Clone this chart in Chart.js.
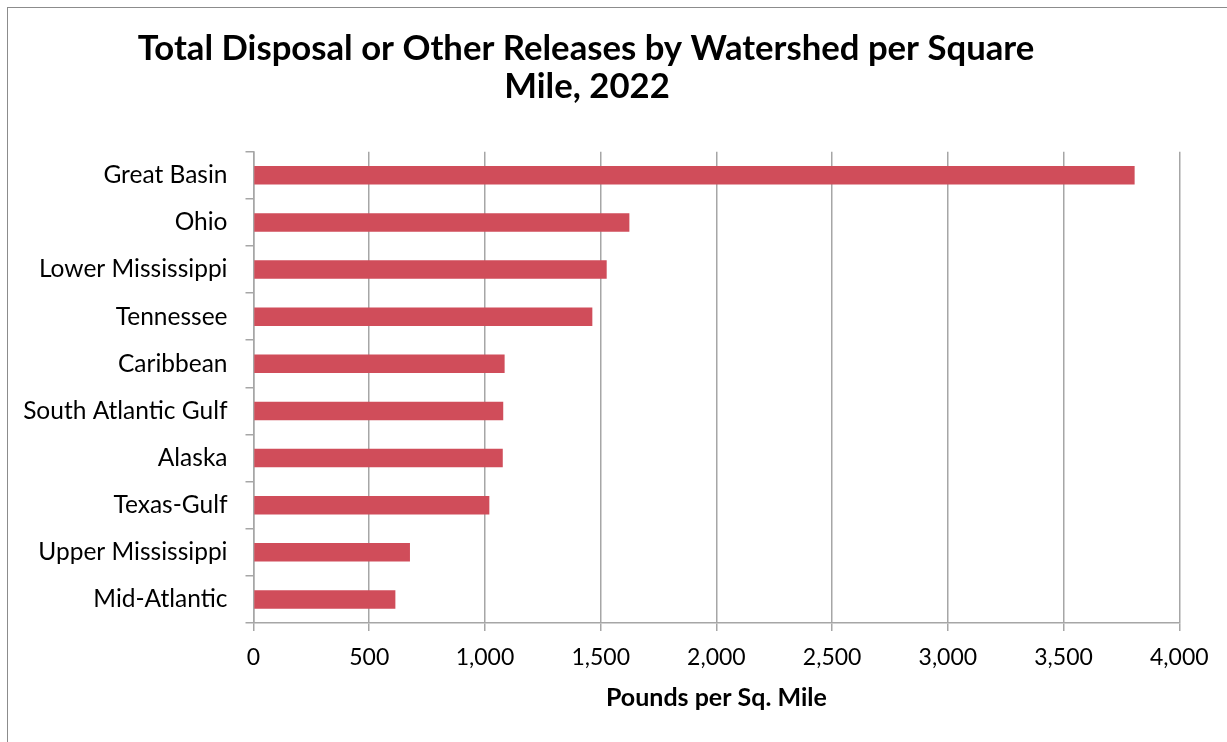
<!DOCTYPE html>
<html><head><meta charset="utf-8">
<script src="https://cdn.jsdelivr.net/npm/chart.js@4"></script>
<style>
html,body{margin:0;padding:0;background:#fff;overflow:hidden}
#wrap{position:absolute;left:0;top:0;width:1227px;height:742px}
#frame{position:absolute;left:7px;top:7px;width:1240px;height:760px;border-left:1px solid #8c8c8c;border-top:1px solid #8c8c8c;pointer-events:none}
</style></head>
<body>
<div id="wrap"><canvas id="c" width="1227" height="742"></canvas></div>
<div id="frame"></div>
<script>
const categories = ["Great Basin","Ohio","Lower Mississippi","Tennessee","Caribbean","South Atlantic Gulf","Alaska","Texas-Gulf","Upper Mississippi","Mid-Atlantic"];
const values = [3807,1624,1526,1464,1085,1079,1077,1019,676,613];
const xTickValues = [0,500,1000,1500,2000,2500,3000,3500,4000];
const titleLines = ["Total Disposal or Other Releases by Watershed per Square","Mile, 2022"];
const xAxisTitle = "Pounds per Sq. Mile";

const FONT = "Lato";
const titlePlugin = {
  id: 'customTitle',
  afterDraw(chart) {
    const ctx = chart.ctx;
    ctx.save();
    ctx.fillStyle = '#000';
    ctx.font = "bold 34.7px " + FONT;
    ctx.textAlign = 'center';
    ctx.textBaseline = 'alphabetic';
    ctx.fillText(titleLines[0], 586, 60);
    ctx.fillText(titleLines[1], 587, 97.5);
    ctx.restore();
  }
};

new Chart(document.getElementById('c'), {
  type: 'bar',
  data: {
    labels: categories,
    datasets: [{
      data: values,
      backgroundColor: 'rgb(208,77,90)',
      borderWidth: 0,
      categoryPercentage: 1,
      barPercentage: 0.393
    }]
  },
  plugins: [titlePlugin],
  options: {
    indexAxis: 'y',
    responsive: false,
    animation: false,
    devicePixelRatio: 1,
    layout: { padding: { top: 151.7, right: 47.7, left: 0, bottom: 0 } },
    plugins: { legend: { display: false }, title: { display: false }, tooltip: { enabled: false } },
    scales: {
      x: {
        type: 'linear',
        min: 0, max: 4000,
        afterBuildTicks(scale) { scale.ticks = xTickValues.map(v => ({ value: v })); },
        afterFit(scale) { scale.height = 119; },
        ticks: {
          color: '#000',
          font: { family: FONT, size: 23 },
          padding: 13,
          callback: v => Number(v).toLocaleString('en-US')
        },
        grid: { color: '#a6a6a6', lineWidth: 1.5, tickLength: 8 },
        border: { color: '#a6a6a6', width: 1.5 },
        title: {
          display: true, text: xAxisTitle, color: '#000',
          font: { family: FONT, size: 25, weight: 'bold' },
          padding: { top: 0, bottom: 29 }
        }
      },
      y: {
        afterFit(scale) { scale.width = 253.5; },
        ticks: { color: '#000', font: { family: FONT, size: 24.5 }, padding: 18 },
        grid: { drawOnChartArea: false, color: '#a6a6a6', lineWidth: 1.5, tickLength: 8, offset: true },
        border: { color: '#a6a6a6', width: 1.5 }
      }
    }
  }
});
</script>
</body></html>
